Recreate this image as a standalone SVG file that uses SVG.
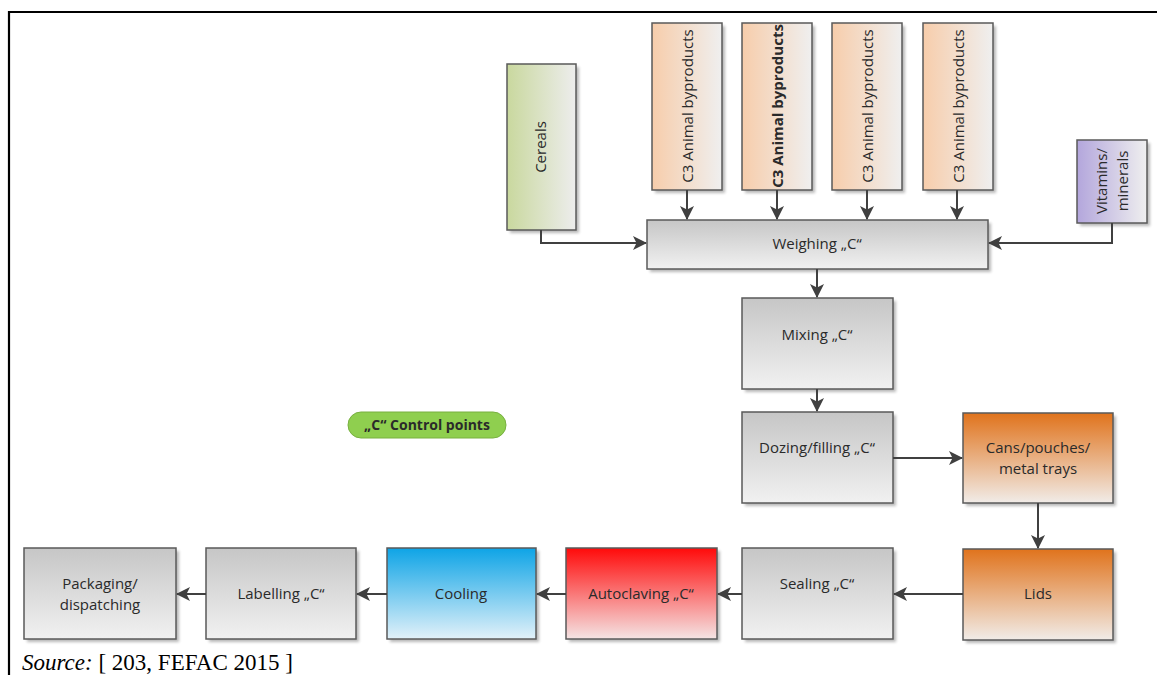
<svg xmlns="http://www.w3.org/2000/svg" width="1157" height="675" viewBox="0 0 1157 675">
<defs>
<linearGradient id="gGray" x1="0" y1="0" x2="0" y2="1"><stop offset="0" stop-color="#c6c6c6"/><stop offset="1" stop-color="#f1f1f1"/></linearGradient>
<linearGradient id="gOrange" x1="0" y1="0" x2="0" y2="1"><stop offset="0" stop-color="#e0731c"/><stop offset="1" stop-color="#f1ece8"/></linearGradient>
<linearGradient id="gBlue" x1="0" y1="0" x2="0" y2="1"><stop offset="0" stop-color="#0ea4e6"/><stop offset="1" stop-color="#e2f1f9"/></linearGradient>
<linearGradient id="gRed" x1="0" y1="0" x2="0" y2="1"><stop offset="0" stop-color="#ff0a0a"/><stop offset="1" stop-color="#f4e4e4"/></linearGradient>
<linearGradient id="gPeach" x1="0" y1="0" x2="1" y2="0"><stop offset="0" stop-color="#f7cdab"/><stop offset="1" stop-color="#efefef"/></linearGradient>
<linearGradient id="gGreen" x1="0" y1="0" x2="1" y2="0"><stop offset="0" stop-color="#c9d89e"/><stop offset="1" stop-color="#ededed"/></linearGradient>
<linearGradient id="gPurple" x1="0" y1="0" x2="1" y2="0"><stop offset="0" stop-color="#b3a6dc"/><stop offset="1" stop-color="#efefef"/></linearGradient>
<filter id="sh" x="-20%" y="-20%" width="140%" height="140%"><feGaussianBlur stdDeviation="1.5"/></filter>
<marker id="arr" markerWidth="14" markerHeight="14" refX="13" refY="7" orient="auto" markerUnits="userSpaceOnUse">
<path d="M0,0 L14,7 L0,14 L3.5,7 Z" fill="#404040"/>
</marker>
</defs>
<style>
.box{stroke:#5a5a5a;stroke-width:1.5}
.shadow{fill:#8a8a8a;opacity:0.6}
.t{font-family:"Open Sans","Liberation Sans",sans-serif;font-size:15px;fill:#2a2a2a;text-anchor:middle}
.b{font-weight:bold}
.c{fill:none;stroke:#404040;stroke-width:2;marker-end:url(#arr)}
</style>
<rect width="1157" height="675" fill="#ffffff"/>
<path d="M9,675 V12 H1157" fill="none" stroke="#000" stroke-width="2.2"/>

<g id="cereals">
<rect class="shadow" x="510" y="67" width="69" height="166" filter="url(#sh)"/>
<rect class="box" x="507" y="64" width="69" height="166" fill="url(#gGreen)"/>
<text class="t" transform="translate(546,147) rotate(-90)">Cereals</text>
</g>
<g id="c3a">
<rect class="shadow" x="655" y="26" width="70" height="167" filter="url(#sh)"/>
<rect class="box" x="652" y="23" width="70" height="167" fill="url(#gPeach)"/>
<text class="t" transform="translate(693,106) rotate(-90)">C3 Animal byproducts</text>
</g>
<g id="c3b">
<rect class="shadow" x="745" y="26" width="70" height="167" filter="url(#sh)"/>
<rect class="box" x="742" y="23" width="70" height="167" fill="url(#gPeach)"/>
<text class="t b" transform="translate(783,106) rotate(-90)">C3 Animal byproducts</text>
</g>
<g id="c3c">
<rect class="shadow" x="835" y="26" width="70" height="167" filter="url(#sh)"/>
<rect class="box" x="832" y="23" width="70" height="167" fill="url(#gPeach)"/>
<text class="t" transform="translate(873,106) rotate(-90)">C3 Animal byproducts</text>
</g>
<g id="c3d">
<rect class="shadow" x="926" y="26" width="70" height="167" filter="url(#sh)"/>
<rect class="box" x="923" y="23" width="70" height="167" fill="url(#gPeach)"/>
<text class="t" transform="translate(964,106) rotate(-90)">C3 Animal byproducts</text>
</g>
<g id="vitamins">
<rect class="shadow" x="1080" y="143" width="70" height="83" filter="url(#sh)"/>
<rect class="box" x="1077" y="140" width="70" height="83" fill="url(#gPurple)"/>
<text class="t" transform="translate(1107,181) rotate(-90)">Vitamins/</text>
<text class="t" transform="translate(1128,181) rotate(-90)">minerals</text>
</g>
<g id="weighing">
<rect class="shadow" x="650" y="223" width="341" height="49" filter="url(#sh)"/>
<rect class="box" x="647" y="220" width="341" height="49" fill="url(#gGray)"/>
<text class="t" x="817" y="249">Weighing „C“</text>
</g>
<g id="mixing">
<rect class="shadow" x="745" y="301" width="151" height="91" filter="url(#sh)"/>
<rect class="box" x="742" y="298" width="151" height="91" fill="url(#gGray)"/>
<text class="t" x="817" y="340">Mixing „C“</text>
</g>
<g id="dozing">
<rect class="shadow" x="745" y="415" width="151" height="91" filter="url(#sh)"/>
<rect class="box" x="742" y="412" width="151" height="91" fill="url(#gGray)"/>
<text class="t" x="817" y="453">Dozing/filling „C“</text>
</g>
<g id="cans">
<rect class="shadow" x="966" y="416" width="150" height="90" filter="url(#sh)"/>
<rect class="box" x="963" y="413" width="150" height="90" fill="url(#gOrange)"/>
<text class="t" x="1038" y="453">Cans/pouches/</text>
<text class="t" x="1038" y="474">metal trays</text>
</g>
<g id="lids">
<rect class="shadow" x="966" y="552" width="150" height="91" filter="url(#sh)"/>
<rect class="box" x="963" y="549" width="150" height="91" fill="url(#gOrange)"/>
<text class="t" x="1038" y="599">Lids</text>
</g>
<g id="sealing">
<rect class="shadow" x="745" y="551" width="151" height="91" filter="url(#sh)"/>
<rect class="box" x="742" y="548" width="151" height="91" fill="url(#gGray)"/>
<text class="t" x="817" y="589">Sealing „C“</text>
</g>
<g id="autoclaving">
<rect class="shadow" x="569" y="551" width="151" height="91" filter="url(#sh)"/>
<rect class="box" x="566" y="548" width="151" height="91" fill="url(#gRed)"/>
<text class="t" x="641" y="599">Autoclaving „C“</text>
</g>
<g id="cooling">
<rect class="shadow" x="390" y="551" width="149" height="91" filter="url(#sh)"/>
<rect class="box" x="387" y="548" width="149" height="91" fill="url(#gBlue)"/>
<text class="t" x="461" y="599">Cooling</text>
</g>
<g id="labelling">
<rect class="shadow" x="209" y="551" width="150" height="91" filter="url(#sh)"/>
<rect class="box" x="206" y="548" width="150" height="91" fill="url(#gGray)"/>
<text class="t" x="281" y="599">Labelling „C“</text>
</g>
<g id="packaging">
<rect class="shadow" x="27" y="551" width="152" height="91" filter="url(#sh)"/>
<rect class="box" x="24" y="548" width="152" height="91" fill="url(#gGray)"/>
<text class="t" x="100" y="589">Packaging/</text>
<text class="t" x="100" y="610">dispatching</text>
</g>
<g id="legend">
<rect x="348" y="412" width="158" height="26" rx="13" ry="13" fill="#8fcf4f" stroke="#78b040" stroke-width="1"/>
<text class="t b" x="427" y="430" style="font-size:14px" fill="#222">„C“ Control points</text>
</g>

<g id="connectors">
<path class="c" d="M541,230 V243 H646"/>
<path class="c" d="M1112,223 V243 H989"/>
<path class="c" d="M687,190 V219"/>
<path class="c" d="M777,190 V219"/>
<path class="c" d="M867,190 V219"/>
<path class="c" d="M957,190 V219"/>
<path class="c" d="M817,269 V297"/>
<path class="c" d="M817,389 V411"/>
<path class="c" d="M893,458 H962"/>
<path class="c" d="M1038,503 V548"/>
<path class="c" d="M963,594 H894"/>
<path class="c" d="M742,594 H718"/>
<path class="c" d="M566,594 H537"/>
<path class="c" d="M387,594 H357"/>
<path class="c" d="M206,594 H177"/>
</g>

<text x="22" y="670" font-family="Liberation Serif,serif" font-size="23" fill="#000"><tspan font-style="italic">Source:</tspan> [ 203, FEFAC 2015 ]</text>
</svg>
